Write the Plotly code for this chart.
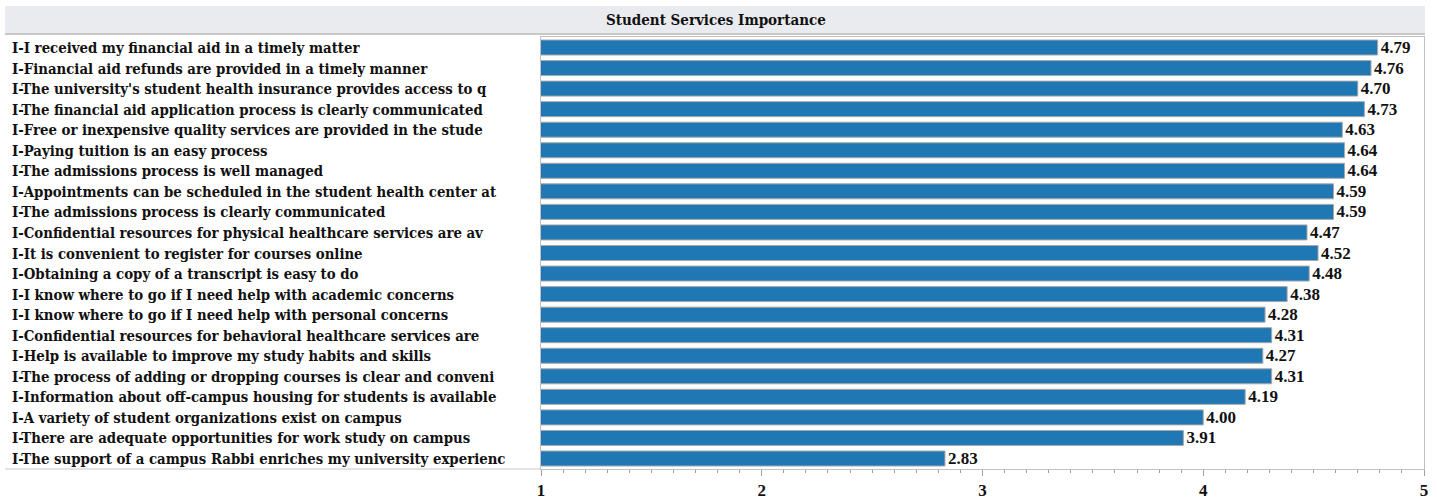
import plotly.graph_objects as go

categories = [
    "I-I received my financial aid in a timely matter",
    "I-Financial aid refunds are provided in a timely manner",
    "I-The university's student health insurance provides access to q",
    "I-The financial aid application process is clearly communicated",
    "I-Free or inexpensive quality services are provided in the stude",
    "I-Paying tuition is an easy process",
    "I-The admissions process is well managed",
    "I-Appointments can be scheduled in the student health center at",
    "I-The admissions process is clearly communicated",
    "I-Confidential resources for physical healthcare services are av",
    "I-It is convenient to register for courses online",
    "I-Obtaining a copy of a transcript is easy to do",
    "I-I know where to go if I need help with academic concerns",
    "I-I know where to go if I need help with personal concerns",
    "I-Confidential resources for behavioral healthcare services are",
    "I-Help is available to improve my study habits and skills",
    "I-The process of adding or dropping courses is clear and conveni",
    "I-Information about off-campus housing for students is available",
    "I-A variety of student organizations exist on campus",
    "I-There are adequate opportunities for work study on campus",
    "I-The support of a campus Rabbi enriches my university experienc",
]
values = [4.79, 4.76, 4.70, 4.73, 4.63, 4.64, 4.64, 4.59, 4.59, 4.47, 4.52,
          4.48, 4.38, 4.28, 4.31, 4.27, 4.31, 4.19, 4.00, 3.91, 2.83]
tick_vals = [1, 2, 3, 4, 5]
title_text = "Student Services Importance"

FONT = "Liberation Serif"
LABEL_FONT = "DejaVu Serif Condensed"
W, H = 1437, 502
L, R, T, B = 541, 13, 37, 33
pw = W - L - R
ph = H - T - B

fig = go.Figure()
fig.add_trace(go.Bar(
    x=values, y=categories, orientation="h",
    marker=dict(color="#1F77B4", line=dict(color="#A8A8A8", width=1)),
    text=[f"<b>{v:.2f}</b>" for v in values], textposition="outside",
    constraintext="none",
    textfont=dict(family=FONT, size=17, color="#111111"),
    cliponaxis=False, hoverinfo="skip",
))

for c in categories:
    fig.add_annotation(x=-(L - 10) / pw, xref="paper", y=c, yref="y",
                       text=f"<b>{c}</b>", showarrow=False, xanchor="left",
                       font=dict(family=LABEL_FONT, size=14.8, color="#111111"))

# title band
fig.add_shape(type="rect", xref="paper", yref="paper",
              x0=-(L - 5) / pw, x1=1 + 1 / pw, y0=1 + 4 / ph, y1=1 + 31 / ph,
              fillcolor="#EAEBEE", line=dict(width=0), layer="below")
fig.add_shape(type="line", xref="paper", yref="paper",
              x0=-(L - 5) / pw, x1=1 + 1 / pw, y0=1 + 3 / ph, y1=1 + 3 / ph,
              line=dict(color="#C8C8C8", width=2))
fig.add_shape(type="line", xref="paper", yref="paper",
              x0=-(L - 5) / pw, x1=0, y0=0, y1=0,
              line=dict(color="#C8C8C8", width=1))
fig.add_annotation(x=(716 - L) / pw, xref="paper", y=1 + 17 / ph, yref="paper",
                   yanchor="middle", xanchor="center",
                   text=f"<b>{title_text}</b>", showarrow=False,
                   font=dict(family=LABEL_FONT, size=15, color="#111111"))

fig.update_layout(
    width=W, height=H,
    margin=dict(l=L, r=R, t=T, b=B, autoexpand=False),
    paper_bgcolor="white", plot_bgcolor="white",
    bargap=0.27, showlegend=False,
    xaxis=dict(range=[1, 5], tickvals=tick_vals,
               ticktext=[f"<b>{t}</b>" for t in tick_vals],
               ticks="outside", ticklen=6, tickcolor="#A0A0A0",
               minor=dict(dtick=0.1, ticks="outside", ticklen=3, tickcolor="#A0A0A0"),
               showgrid=False, zeroline=False, showline=True,
               linecolor="#C0C0C0", mirror=True, automargin=False,
               tickfont=dict(family=FONT, size=17, color="#111111"),
               ticklabelstandoff=0),
    yaxis=dict(autorange="reversed", showticklabels=False, showgrid=False,
               showline=True, linecolor="#C0C0C0", mirror=True, ticks="",
               automargin=False),
)

fig.write_html("out.html", config={"displayModeBar": False},
               post_script="document.body.style.margin='0';")
